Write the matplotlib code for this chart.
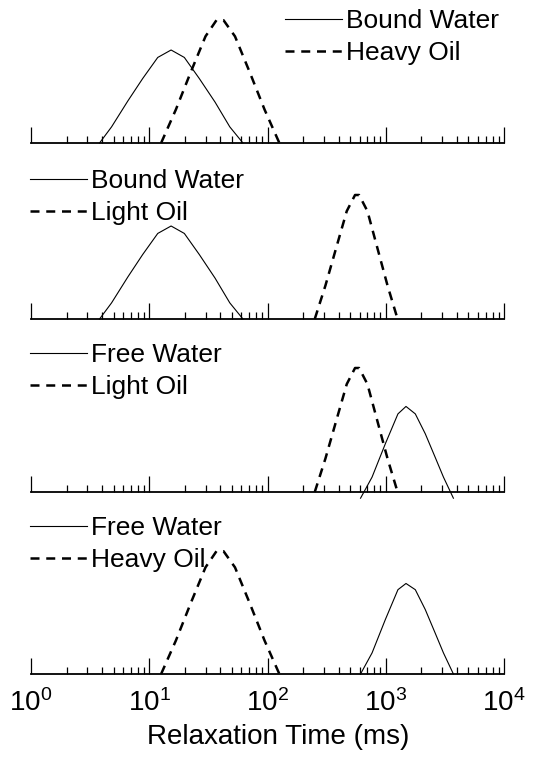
import numpy as np
import matplotlib
matplotlib.use("Agg")
import matplotlib.pyplot as plt
from matplotlib.ticker import LogLocator, NullFormatter, LogFormatterMathtext

plt.rcParams['font.family'] = ['Liberation Sans', 'DejaVu Sans']
plt.rcParams['mathtext.fontset'] = 'custom'
plt.rcParams['mathtext.rm'] = 'Liberation Sans'
plt.rcParams['mathtext.it'] = 'Liberation Sans'

# T2 distributions (relaxation time in ms, amplitude)
bound_T = [3.8, 4.8, 6.6, 8.8, 11.8, 15.3, 19.8, 26.5, 36.0, 48.0, 62.0]
bound_amp = [0.0, 0.13, 0.34, 0.52, 0.69, 0.75, 0.69, 0.52, 0.33, 0.13, 0.0]

heavy_T = [12.6, 16.8, 22.4, 29.9, 37.0, 42.5, 53.1, 70.8, 94.4, 126.0]
heavy_amp = [0.0, 0.27, 0.57, 0.86, 0.99, 0.99, 0.86, 0.57, 0.27, 0.0]

light_T = [251, 309, 380, 468, 550, 595, 700, 851, 1035, 1259]
light_amp = [0.0, 0.27, 0.57, 0.87, 1.0, 1.0, 0.87, 0.57, 0.27, 0.0]

free_T = [612, 766, 993, 1268, 1483, 1778, 2158, 2618, 3076, 3733]
free_amp = [0.0, 0.17, 0.44, 0.68, 0.73, 0.68, 0.52, 0.33, 0.17, 0.0]
# in the third panel the free water curve sits a little lower
free_amp_p3 = [-0.05, 0.12, 0.39, 0.63, 0.69, 0.63, 0.47, 0.28, 0.12, -0.05]

panels = [
    ("Bound Water", bound_T, bound_amp, "Heavy Oil", heavy_T, heavy_amp),
    ("Bound Water", bound_T, bound_amp, "Light Oil", light_T, light_amp),
    ("Free Water", free_T, free_amp_p3, "Light Oil", light_T, light_amp),
    ("Free Water", free_T, free_amp, "Heavy Oil", heavy_T, heavy_amp),
]

W, H = 542, 770
baselines = [143, 319, 492, 674]          # pixel rows of each axis line
legend_pos = [(285, 9), (30, 169), (30, 343), (30, 516)]
ax_h = 150

fig = plt.figure(figsize=(W / 100, H / 100), dpi=100)

for i, (p, b, lp) in enumerate(zip(panels, baselines, legend_pos)):
    sname, sT, samp, dname, dT, damp = p
    ax = fig.add_axes([31 / W, (H - b) / H, 473 / W, ax_h / H])
    ax.plot(sT, samp, color='black', lw=0.8, label=sname, clip_on=False)
    ax.plot(dT, damp, color='black', lw=1.8, ls=(0, (3.6, 2.7)), label=dname,
            clip_on=False)
    ax.set_xscale('log')
    ax.set_xlim(1, 1e4)
    ax.set_ylim(0, ax_h / 124)
    for s in ['top', 'left', 'right']:
        ax.spines[s].set_visible(False)
    ax.spines['bottom'].set_linewidth(1.3)
    ax.set_yticks([])
    ax.xaxis.set_major_locator(LogLocator(base=10, numticks=10))
    ax.xaxis.set_minor_locator(LogLocator(base=10, subs=np.arange(2, 10), numticks=50))
    ax.xaxis.set_minor_formatter(NullFormatter())
    ax.tick_params(axis='x', which='major', direction='in', length=11.5, width=0.9, pad=11)
    ax.tick_params(axis='x', which='minor', direction='in', length=5, width=0.9)
    if i < 3:
        ax.tick_params(axis='x', which='both', labelbottom=False)
    else:
        ax.xaxis.set_major_formatter(LogFormatterMathtext())
        ax.tick_params(axis='x', labelsize=20)
        ax.set_xlabel("Relaxation Time (ms)", fontsize=20)
        ax.xaxis.set_label_coords(0.522, -0.33)
    ax.legend(loc='upper left', bbox_to_anchor=(lp[0] / W, 1 - lp[1] / H),
              bbox_transform=fig.transFigure, frameon=False, fontsize=19,
              handlelength=2.15, handletextpad=0.15, borderpad=0, borderaxespad=0,
              labelspacing=0.32)

fig.savefig("out.png", dpi=100)
